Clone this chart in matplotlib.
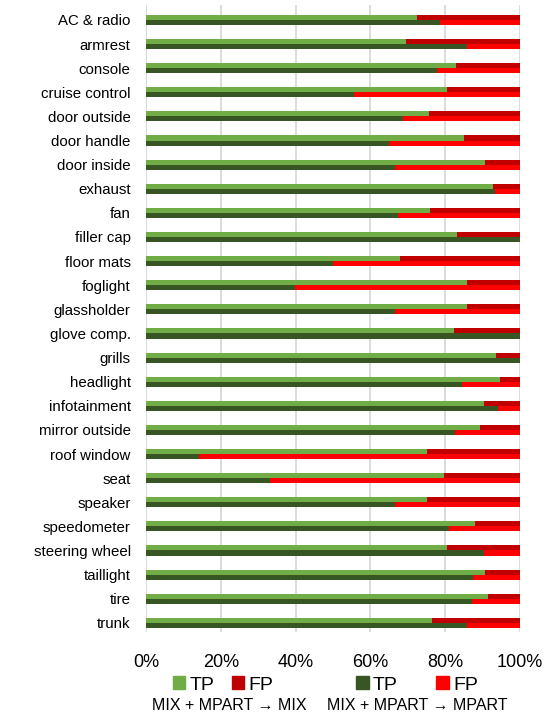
import matplotlib.pyplot as plt
import numpy as np
from matplotlib.patches import Patch

plt.rcParams['font.family'] = ['Liberation Sans', 'DejaVu Sans']

categories = ['AC & radio', 'armrest', 'console', 'cruise control', 'door outside',
              'door handle', 'door inside', 'exhaust', 'fan', 'filler cap',
              'floor mats', 'foglight', 'glassholder', 'glove comp.', 'grills',
              'headlight', 'infotainment', 'mirror outside', 'roof window', 'seat',
              'speaker', 'speedometer', 'steering wheel', 'taillight', 'tire', 'trunk']

# TP share (%) per category, MIX + MPART -> MIX
tp_mix = [72.4, 69.5, 82.9, 80.4, 75.8, 85.0, 90.6, 92.7, 76.0, 83.2,
          67.8, 85.7, 85.7, 82.4, 93.5, 94.7, 90.3, 89.4, 75.0, 79.6,
          75.0, 88.1, 80.4, 90.6, 91.4, 76.5]
# TP share (%) per category, MIX + MPART -> MPART
tp_mpart = [78.6, 85.7, 77.8, 55.5, 68.8, 65.0, 66.7, 93.4, 67.5, 100.0,
            50.0, 39.9, 66.7, 100.0, 100.0, 84.6, 94.1, 82.7, 14.3, 33.2,
            66.7, 80.9, 90.4, 87.5, 87.1, 85.7]

fp_mix = [100 - v for v in tp_mix]
fp_mpart = [100 - v for v in tp_mpart]

c_tp1, c_fp1 = '#70AD47', '#C00000'
c_tp2, c_fp2 = '#375623', '#FF0000'

fig = plt.figure(figsize=(5.45, 7.13), dpi=100)
ax = fig.add_axes([146 / 545, 81 / 713, 374 / 545, 627 / 713])

y = np.arange(len(categories))
h = 0.21
ax.barh(y - h / 2, tp_mix, height=h, color=c_tp1, zorder=3)
ax.barh(y - h / 2, fp_mix, left=tp_mix, height=h, color=c_fp1, zorder=3)
ax.barh(y + h / 2, tp_mpart, height=h, color=c_tp2, zorder=3)
ax.barh(y + h / 2, fp_mpart, left=tp_mpart, height=h, color=c_fp2, zorder=3)

ax.set_xlim(0, 100)
ax.set_ylim(len(categories) - 0.5 - 0.12, -0.5 - 0.12)
ax.set_yticks(y)
ax.set_yticklabels(categories, fontsize=10.8, color='#000000')
ax.set_xticks(np.arange(0, 101, 20))
ax.set_xticklabels([f'{v}%' for v in range(0, 101, 20)], fontsize=13)
ax.tick_params(axis='y', length=0, pad=11)
ax.tick_params(axis='x', length=0, pad=16)
ax.grid(axis='x', color='#D9D9D9', linewidth=1.3, zorder=0)
for s in ax.spines.values():
    s.set_visible(False)

fig.legend(handles=[Patch(color=c_tp1, label='TP'), Patch(color=c_fp1, label='FP')],
           ncol=2, frameon=False, fontsize=14, loc='center',
           bbox_to_anchor=(223 / 545, 1 - 685 / 713),
           handlelength=0.65, handleheight=0.65, handletextpad=0.2,
           columnspacing=0.9)
fig.legend(handles=[Patch(color=c_tp2, label='TP'), Patch(color=c_fp2, label='FP')],
           ncol=2, frameon=False, fontsize=14, loc='center',
           bbox_to_anchor=(417 / 545, 1 - 685 / 713),
           handlelength=0.65, handleheight=0.65, handletextpad=0.2,
           columnspacing=2.0)
fig.text(229 / 545, 1 - 706 / 713, 'MIX + MPART \u2192 MIX', ha='center', va='center', fontsize=11.5)
fig.text(417 / 545, 1 - 706 / 713, 'MIX + MPART \u2192 MPART', ha='center', va='center', fontsize=11.5)

fig.savefig('out.png', dpi=100)
